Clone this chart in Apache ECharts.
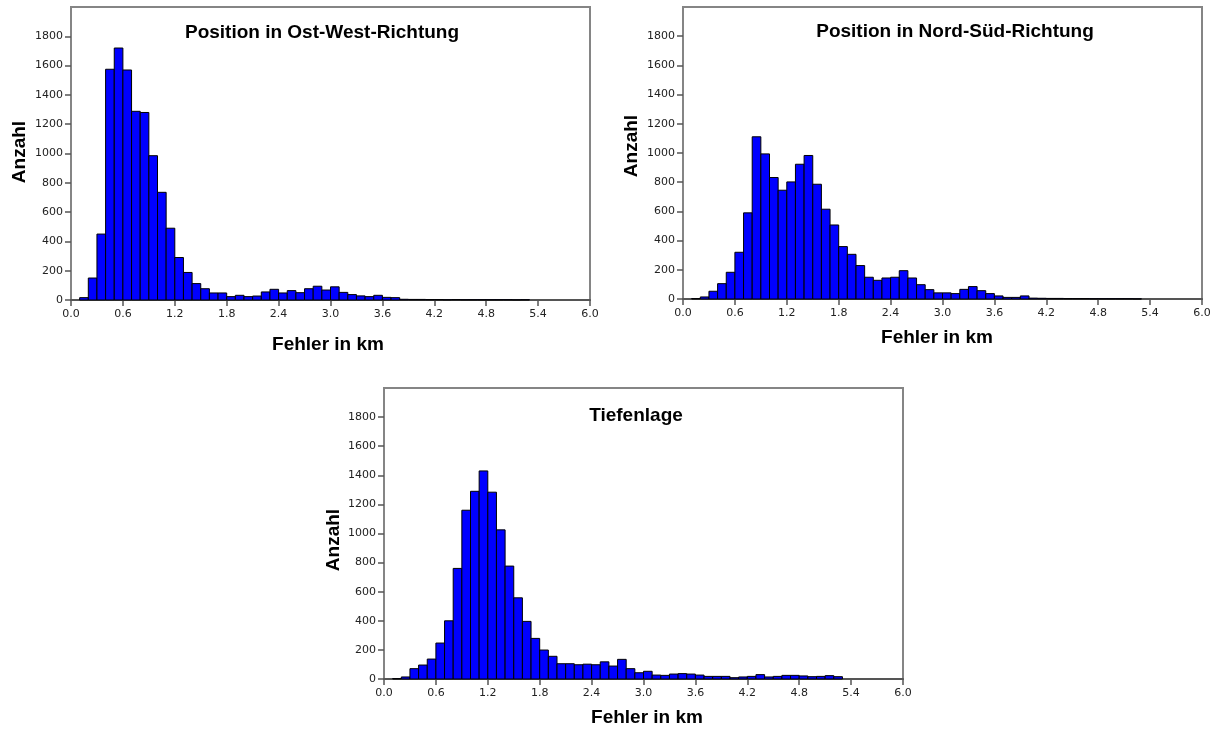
<!DOCTYPE html>
<html>
<head>
<meta charset="utf-8">
<script src="https://cdn.jsdelivr.net/npm/echarts@6/dist/echarts.min.js"></script>
<style>
html,body{margin:0;padding:0;background:#fff;}
#chart{width:1223px;height:729px;}
</style>
</head>
<body>
<div id="chart"></div>
<script>
// Histogram bins: width 0.1 km, first bin starts at 0.1 km
var binWidth = 0.1;
var firstBin = 0.1;

var titles = ['Position in Ost-West-Richtung', 'Position in Nord-Süd-Richtung', 'Tiefenlage'];
var xAxisTitle = 'Fehler in km';
var yAxisTitle = 'Anzahl';

var xTicks = [0, 0.6, 1.2, 1.8, 2.4, 3.0, 3.6, 4.2, 4.8, 5.4, 6.0];
var yTicks = [0, 200, 400, 600, 800, 1000, 1200, 1400, 1600, 1800];

// counts per bin (0.1-0.2, 0.2-0.3, ...)
var countsOstWest = [16, 150, 450, 1575, 1720, 1570, 1288, 1280, 985, 735,
  490, 290, 188, 112, 77, 48, 48, 23, 32, 23,
  27, 55, 73, 48, 64, 50, 77, 94, 68, 90,
  52, 37, 28, 23, 32, 18, 16, 5, 4, 4,
  3, 3, 2, 3, 2, 2, 2, 2, 2, 2,
  1, 2];
var countsNordSued = [3, 14, 53, 105, 183, 320, 590, 1111, 994, 832,
  745, 802, 923, 983, 786, 615, 507, 359, 306, 229,
  149, 128, 144, 149, 194, 144, 98, 64, 42, 42,
  37, 66, 85, 57, 37, 21, 11, 11, 21, 6,
  5, 4, 4, 3, 3, 3, 2, 2, 2, 2,
  2, 1];
var countsTiefe = [3, 14, 71, 96, 137, 247, 400, 760, 1160, 1290,
  1430, 1284, 1025, 776, 558, 396, 279, 199, 156, 105,
  105, 98, 102, 98, 118, 89, 135, 71, 43, 53,
  27, 25, 34, 37, 34, 27, 18, 18, 18, 9,
  14, 18, 30, 14, 18, 25, 25, 21, 16, 18,
  23, 16];

var allCounts = [countsOstWest, countsNordSued, countsTiefe];

var grids = [
  {left: 71, top: 7, width: 519, height: 293},
  {left: 683, top: 7, width: 519, height: 292},
  {left: 384, top: 388, width: 519, height: 291}
];
var titlePos = [[322, 33], [955, 32], [636, 416]];
var xNamePos = [[328, 345], [937, 338], [647, 718]];
var yNamePos = [[20, 152], [632, 146], [334, 540]];

function toBins(counts) {
  return counts.map(function (c, i) {
    var x0 = firstBin + i * binWidth;
    return [x0, x0 + binWidth, c];
  });
}

function renderBar(params, api) {
  var p0 = api.coord([api.value(0), api.value(2)]);
  var p1 = api.coord([api.value(1), 0]);
  return {
    type: 'rect',
    shape: {x: p0[0], y: p0[1], width: p1[0] - p0[0], height: p1[1] - p0[1]},
    style: {fill: '#0000FF', stroke: '#000000', lineWidth: 1}
  };
}

var tickFont = {fontFamily: 'DejaVu Sans', fontSize: 11, color: '#222'};
var boldFont = 'bold 19px "Liberation Sans", Arial, sans-serif';

var option = {
  animation: false,
  backgroundColor: '#ffffff',
  grid: grids.map(function (g) {
    return {left: g.left, top: g.top, width: g.width, height: g.height,
      show: true, borderColor: '#858585', borderWidth: 2, backgroundColor: '#ffffff'};
  }),
  xAxis: grids.map(function (g, i) {
    return {
      type: 'value', gridIndex: i, min: 0, max: 6,
      axisLine: {show: true, lineStyle: {color: '#555', width: 2}},
      axisTick: {show: true, length: 6, customValues: xTicks, lineStyle: {color: '#555', width: 1.5}},
      axisLabel: {customValues: xTicks, margin: 9, fontFamily: tickFont.fontFamily,
        fontSize: tickFont.fontSize, color: tickFont.color,
        formatter: function (v) { return Number(v).toFixed(1); }},
      splitLine: {show: false}
    };
  }),
  yAxis: grids.map(function (g, i) {
    return {
      type: 'value', gridIndex: i, min: 0, max: 2000,
      axisLine: {show: true, lineStyle: {color: '#858585', width: 2}},
      axisTick: {show: true, length: 6, customValues: yTicks, lineStyle: {color: '#555', width: 1.5}},
      axisLabel: {customValues: yTicks, margin: 8, fontFamily: tickFont.fontFamily,
        fontSize: tickFont.fontSize, color: tickFont.color,
        formatter: function (v) { return String(Math.round(v)); }},
      splitLine: {show: false}
    };
  }),
  series: allCounts.map(function (counts, i) {
    return {
      type: 'custom', xAxisIndex: i, yAxisIndex: i,
      renderItem: renderBar,
      encode: {x: [0, 1], y: 2},
      data: toBins(counts)
    };
  }),
  graphic: []
};

titles.forEach(function (t, i) {
  option.graphic.push({type: 'text', x: titlePos[i][0], y: titlePos[i][1], z: 100,
    style: {text: t, font: boldFont, fill: '#000', align: 'center', verticalAlign: 'middle'}});
  option.graphic.push({type: 'text', x: xNamePos[i][0], y: xNamePos[i][1], z: 100,
    style: {text: xAxisTitle, font: boldFont, fill: '#000', align: 'center', verticalAlign: 'middle'}});
  option.graphic.push({type: 'text', x: yNamePos[i][0], y: yNamePos[i][1], rotation: Math.PI / 2, z: 100,
    style: {text: yAxisTitle, font: boldFont, fill: '#000', align: 'center', verticalAlign: 'middle'}});
});

var chart = echarts.init(document.getElementById('chart'), null, {renderer: 'canvas'});
chart.setOption(option);
</script>
</body>
</html>
